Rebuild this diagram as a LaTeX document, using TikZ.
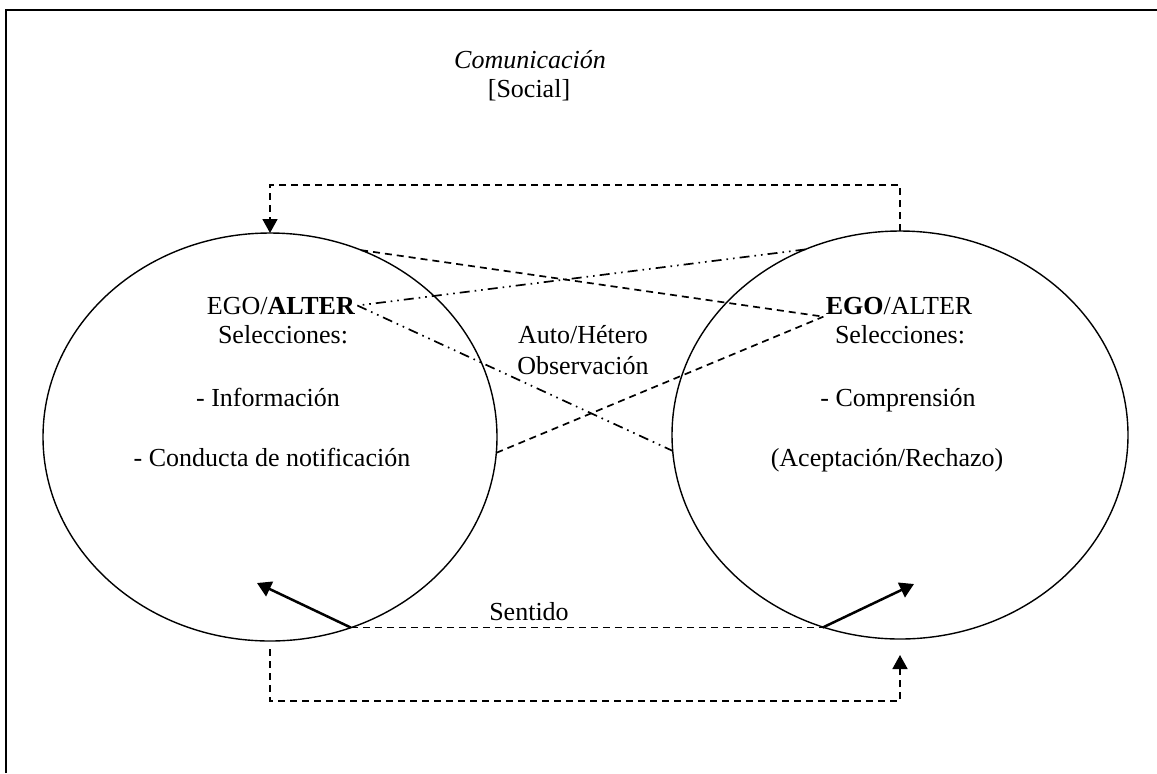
\documentclass[tikz,border=0pt]{standalone}
\usepackage{fontspec}
\setmainfont{Liberation Serif}
\usetikzlibrary{shapes.geometric, arrows.meta, positioning, calc}
\tikzset{
	sphere/.style  ={ellipse, draw=black, line width=0.7pt, inner sep=0pt, outer sep=0pt, minimum width=227pt, minimum height=204pt},
	txt/.style     ={anchor=base, inner sep=1pt},
	loopflow/.style={dash pattern=on 3.5pt off 2.5pt, line width=0.85pt},
	looptip/.style ={-{Triangle[length=7pt, width=7.5pt]}},
	obsdash/.style ={dash pattern=on 3.5pt off 2.5pt, line width=0.85pt},
	obsdot/.style  ={dash pattern=on 5pt off 2.5pt on 0.8pt off 2.5pt on 0.8pt off 2.5pt, line width=0.85pt},
	turn/.style    ={-{Triangle[length=7pt, width=8pt]}, line width=1.25pt},
}
\begin{document}
\begin{tikzpicture}[x=0.5pt, y=-0.5pt, every node/.style={font=\fontsize{13}{15}\selectfont}]
	\useasboundingbox (0,0) rectangle (1157,773);
	\draw[line width=1pt] (6,773) -- (6,10) -- (1157,10);
	% heading
	\node[txt, font=\fontsize{13}{15}\selectfont\itshape] (title) at (530,68) {Comunicación};
	\node[txt] (social) at (529,97) {[Social]};
	% the two systems
	\node[sphere] (lsph) at (270,437) {};
	\node[sphere, minimum width=228pt] (rsph) at (900,435) {};
	\node[txt] (lego)  at (281,314) {EGO/\textbf{ALTER}};
	\node[txt] (lsel)  at (283,343) {Selecciones:};
	\node[txt] (linfo) at (268,406) {- Información};
	\node[txt] (lcond) at (272,466) {- Conducta de notificación};
	\node[txt] (rego)  at (899,314) {\textbf{EGO}/ALTER};
	\node[txt] (rsel)  at (900,343) {Selecciones:};
	\node[txt] (rcomp) at (898,406) {- Comprensión};
	\node[txt] (racep) at (887,466) {(Aceptación/Rechazo)};
	\node[txt] (auto)  at (583,343) {Auto/Hétero};
	\node[txt] (obs)   at (583,374) {Observación};
	\node[txt] (sense) at (529,620) {Sentido};
	% observation lines
	\draw[obsdash] (lsph.64) -- (rego.south west);
	\draw[obsdash] (lsph.-4) -- (rego.south west);
	\draw[obsdot] (rsph.117) -- (lego.east);
	\draw[obsdot] (lego.east) -- (rsph.184);
	% loops above and below
	\coordinate (topturn) at (0,185);
	\coordinate (botturn) at (0,701);
	\draw[loopflow, looptip] (rsph.north) |- (topturn -| lsph.north) -- (lsph.north);
	\draw[loopflow, looptip] ([yshift=-4pt]lsph.south) |- (botturn -| rsph.south) -- ([yshift=-8pt]rsph.south);
	% meaning
	\coordinate (lfoot) at (lsph.-67);
	\coordinate (rfoot) at (lfoot -| rsph.248);
	\coordinate (lturn) at (257,583);
	\coordinate (rturn) at (914,584);
	\draw[obsdash] (lfoot) -- (rfoot);
	\draw[turn] (lfoot) -- (lturn);
	\draw[turn] (rfoot) -- (rturn);
\end{tikzpicture}
\end{document}
